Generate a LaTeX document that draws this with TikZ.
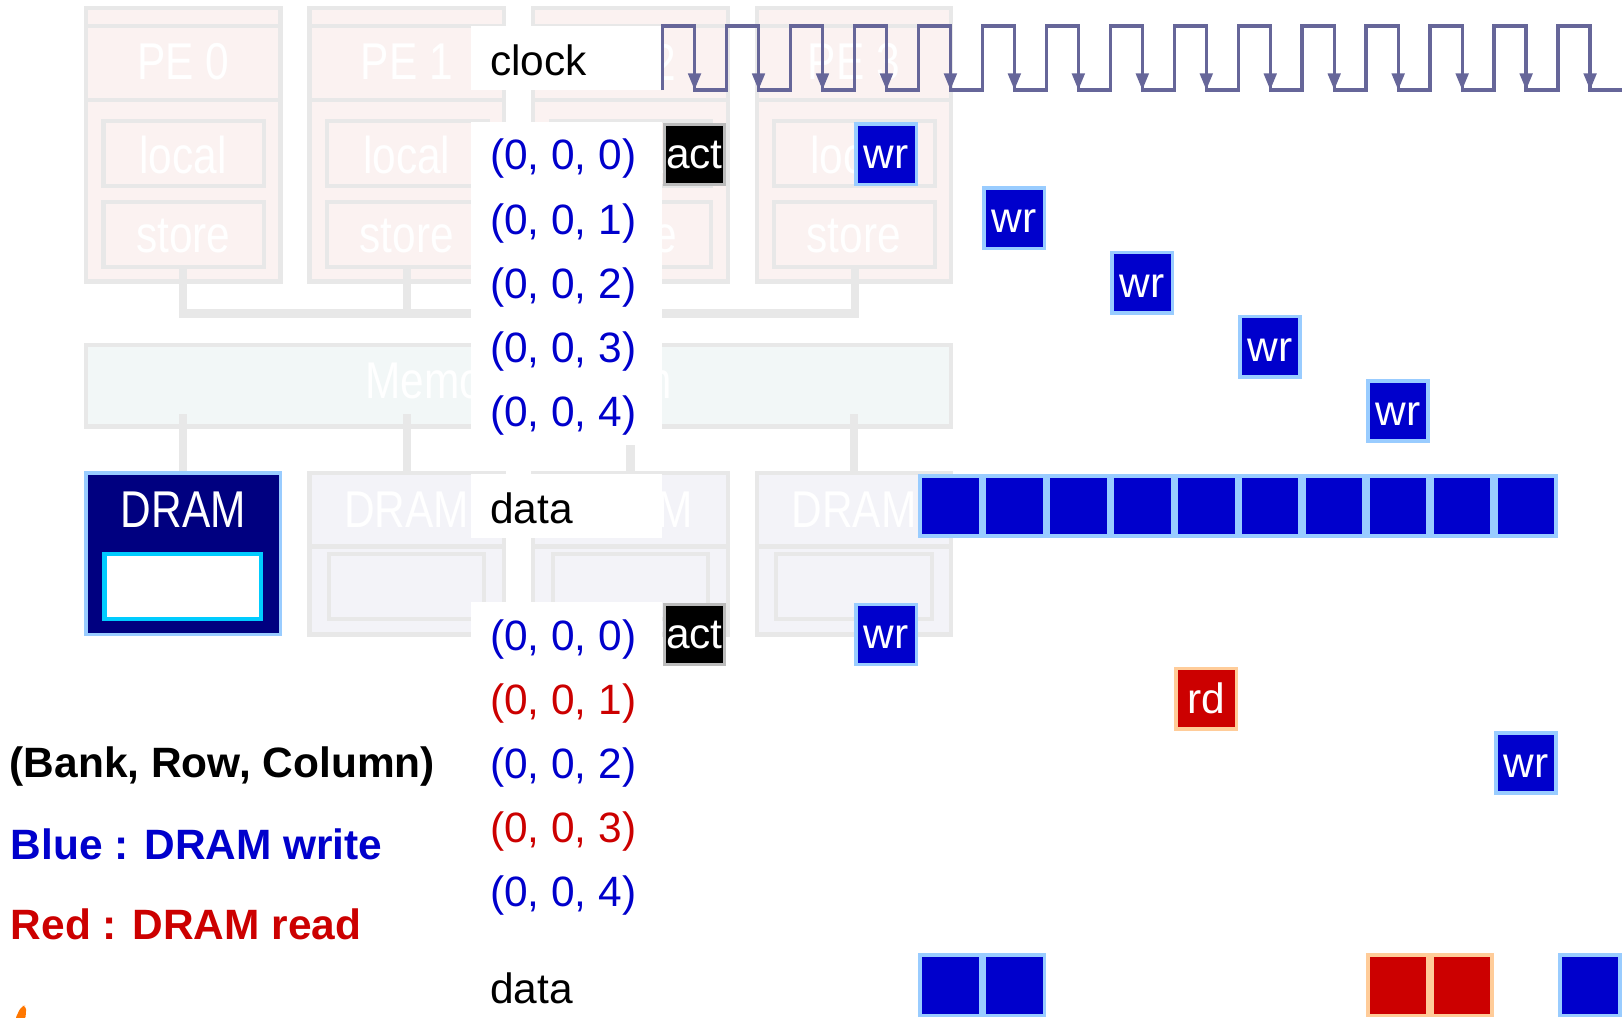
\documentclass[tikz,border=0pt]{standalone}
\usepackage{fontspec}
\setmainfont{Liberation Sans}
\newfontfamily\narrowfont[FakeStretch=0.82]{Liberation Sans}
\usetikzlibrary{arrows.meta}

\definecolor{wrblue}{HTML}{0000CC}
\definecolor{wredge}{HTML}{99CCFF}
\definecolor{rdred}{HTML}{CC0000}
\definecolor{rdedge}{HTML}{FFCC99}
\definecolor{clk}{HTML}{666699}
\definecolor{navybox}{HTML}{000080}
\definecolor{cyanedge}{HTML}{00CCFF}
\definecolor{fadeline}{HTML}{E8E8E8}
\definecolor{pefill}{HTML}{FBF2F1}
\definecolor{memfill}{HTML}{F2F7F7}
\definecolor{dramfill}{HTML}{F3F3F8}
\definecolor{actedge}{HTML}{BBBBBB}
\definecolor{orangemark}{HTML}{FF7700}

\tikzset{
  fadeedge/.style={draw=fadeline, line width=2pt},
  pebox/.style={fadeedge, fill=pefill},
  drambox/.style={fadeedge, fill=dramfill},
  fadetext/.style={text=white, inner sep=0pt, font=\narrowfont\fontsize{25pt}{30pt}\selectfont},
  bus/.style={draw=fadeline, line width=4pt},
  slot/.style={rectangle, minimum width=29.1pt, minimum height=29.1pt, inner sep=0pt,
    line width=1.75pt, text=white, font=\fontsize{20.5pt}{24pt}\selectfont,
    text height=14pt, text depth=0pt},
  wrcell/.style={slot, fill=wrblue, draw=wredge},
  rdcell/.style={slot, fill=rdred, draw=rdedge},
  actcell/.style={slot, fill=black, draw=actedge, line width=1.5pt},
  rowtext/.style={anchor=west, inner sep=0pt, font=\fontsize{20.5pt}{24pt}\selectfont},
  keytext/.style={anchor=west, inner sep=0pt, font=\bfseries\fontsize{20.5pt}{24pt}\selectfont},
  clockline/.style={draw=clk, line width=1.6pt, line join=miter},
}

\begin{document}
\begin{tikzpicture}[x=0.5pt, y=-0.5pt]
  \clip (0,0) rectangle (1568,983);
  \fill[white] (0,0) rectangle (1568,983);

  % processing elements (faded)
  \foreach \i in {0,...,3} {
    \pgfmathsetmacro\xl{83+216*\i}
    \draw[pebox] (\xl,8) rectangle ++(188,264);
    \draw[fadeedge] (\xl,25) -- ++(188,0);
    \draw[fadeedge] (\xl,97) -- ++(188,0);
    \draw[pebox] (\xl+17,117) rectangle ++(155,63);
    \draw[pebox] (\xl+17,195) rectangle ++(155,63);
    \node[fadetext] (pe\i) at (\xl+94,60) {PE \i};
    \node[fadetext] (local\i) at (\xl+94,150) {local};
    \node[fadetext] (store\i) at (\xl+94,228) {store};
  }

  % bus joining the local stores
  \draw[bus] (177,258) -- (177,303) -- (826,303) -- (826,258);
  \draw[bus] (393,258) -- (393,303);
  \draw[bus] (609,258) -- (609,303);

  % memory system (faded)
  \draw[fadeedge, fill=memfill] (83,333) rectangle (919,412);
  \node[fadetext] (mem) at (501,373) {Memory System};
  \foreach \i in {0,...,3}
    \draw[bus] ({177+216*\i},400) -- ({177+216*\i},457);

  % DRAM devices
  \foreach \i in {1,...,3} {
    \pgfmathsetmacro\xl{83+216*\i}
    \draw[drambox] (\xl,457) rectangle ++(188,156);
    \draw[fadeedge] (\xl,528) -- ++(188,0);
    \draw[drambox] (\xl+19,535) rectangle ++(150,63);
    \node[fadetext] (dram\i) at (\xl+94,492) {DRAM};
  }
  \draw[draw=wredge, fill=navybox, line width=1.75pt] (83,457) rectangle (271,613);
  \draw[draw=cyanedge, fill=white, line width=2pt] (101,535) rectangle (252,598);
  \node[fadetext] (dram0) at (177,492) {DRAM};

  % white panels behind the signal names
  \fill[white] (455,25) rectangle (640,87);
  \fill[white] (455,118) rectangle (640,430);
  \fill[white] (455,458) rectangle (640,520);
  \fill[white] (455,582) rectangle (640,983);

  % signal names and addresses
  \node[rowtext] (clocklbl) at (473,58.5) {clock};
  \foreach \n in {0,...,4}
    \node[rowtext, text=wrblue] (ta\n) at (473,{153.5+62*\n}) {(0, 0, \n)};
  \node[rowtext] (datalbl) at (473,491) {data};
  \node[rowtext, text=wrblue] (ba0) at (473,617.5) {(0, 0, 0)};
  \node[rowtext, text=rdred]  (ba1) at (473,679.5) {(0, 0, 1)};
  \node[rowtext, text=wrblue] (ba2) at (473,741.5) {(0, 0, 2)};
  \node[rowtext, text=rdred]  (ba3) at (473,803.5) {(0, 0, 3)};
  \node[rowtext, text=wrblue] (ba4) at (473,865.5) {(0, 0, 4)};
  \node[rowtext] (datalbl2) at (473,955) {data};

  % clock waveform
  \draw[clockline] (640,87) \foreach \k in {0,...,14} {
      -- ({640+61.8*\k},25) -- ({671+61.8*\k},25)
      -- ({671+61.8*\k},87) -- ({701.8+61.8*\k},87) };
  \foreach \k in {0,...,14}
    \draw[clockline, -{Triangle[width=6pt,length=8pt]}] ({671+61.8*\k},50) -- ({671+61.8*\k},87);

  % first sequence: activate, then five writes
  \node[actcell] (act1) at ({640+61.8*0.5},149) {act};
  \node[wrcell] (w10) at ({640+61.8*3.5},149) {wr};
  \node[wrcell] (w11) at ({640+61.8*5.5},211) {wr};
  \node[wrcell] (w12) at ({640+61.8*7.5},273) {wr};
  \node[wrcell] (w13) at ({640+61.8*9.5},335) {wr};
  \node[wrcell] (w14) at ({640+61.8*11.5},397) {wr};
  \foreach \k in {4,...,13}
    \node[wrcell] (d1\k) at ({640+61.8*(\k+0.5)},489) {};

  % second sequence: mixed writes and reads
  \node[actcell] (act2) at ({640+61.8*0.5},613) {act};
  \node[wrcell] (w20) at ({640+61.8*3.5},613) {wr};
  \node[rdcell] (r21) at ({640+61.8*8.5},675) {rd};
  \node[wrcell] (w22) at ({640+61.8*13.5},737) {wr};
  \foreach \k in {4,5,14}
    \node[wrcell] (d2\k) at ({640+61.8*(\k+0.5)},952) {};
  \foreach \k in {11,12}
    \node[rdcell] (d2\k) at ({640+61.8*(\k+0.5)},952) {};

  % key
  \node[keytext] (keyaddr) at (9,740.5) {(Bank, Row, Column)};
  \node[keytext, text=wrblue] (keywr) at (10,816) {Blue : DRAM write};
  \node[keytext, text=rdred] (keyrd) at (10,893) {Red : DRAM read};

  % orange mark at the lower left
  \fill[orangemark, rounded corners=2pt] (14,986) -- (20.5,972) -- (25.5,971.5) -- (24.5,986) -- cycle;
\end{tikzpicture}
\end{document}
